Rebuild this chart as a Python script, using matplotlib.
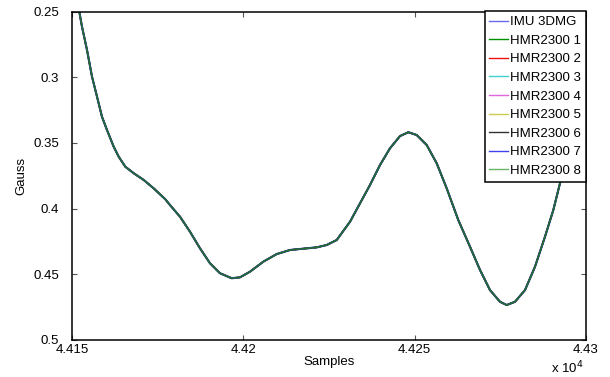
import matplotlib
matplotlib.use("Agg")
import matplotlib.pyplot as plt
from matplotlib.ticker import FuncFormatter

plt.rcParams['font.family'] = ['Liberation Sans', 'DejaVu Sans']

# sample index and field value (Gauss)
samples = [44150.00, 44152.13, 44152.92, 44154.38, 44155.84, 44157.30, 44158.75, 44160.21,
           44162.17, 44163.63, 44165.55, 44168.01, 44170.92, 44173.84, 44177.23, 44178.60,
           44181.52, 44184.44, 44187.35, 44190.27, 44193.19, 44196.61, 44199.03, 44201.95,
           44205.83, 44209.74, 44213.63, 44217.50, 44221.41, 44224.33, 44227.25, 44231.13,
           44234.05, 44236.97, 44239.89, 44242.80, 44245.72, 44248.14, 44250.59, 44253.51,
           44256.43, 44259.35, 44262.73, 44266.15, 44269.07, 44271.98, 44274.90, 44276.86,
           44279.28, 44282.20, 44285.12, 44288.03, 44290.46, 44292.41, 44295.33, 44300.00]
imu_3dmg = [0.2207, 0.2502, 0.2616, 0.2793, 0.2996, 0.3148, 0.3301, 0.3402,
            0.3529, 0.3605, 0.3681, 0.3731, 0.3782, 0.3846, 0.3929, 0.3973,
            0.4062, 0.4176, 0.4302, 0.4416, 0.4492, 0.4530, 0.4523, 0.4480,
            0.4404, 0.4346, 0.4315, 0.4305, 0.4295, 0.4277, 0.4239, 0.4100,
            0.3960, 0.3820, 0.3668, 0.3541, 0.3448, 0.3419, 0.3440, 0.3516,
            0.3655, 0.3846, 0.4087, 0.4290, 0.4467, 0.4620, 0.4709, 0.4734,
            0.4709, 0.4620, 0.4442, 0.4214, 0.4011, 0.3807, 0.3516, 0.3097]
hmr2300 = list(imu_3dmg)

series_labels = ['IMU 3DMG', 'HMR2300 1', 'HMR2300 2', 'HMR2300 3', 'HMR2300 4',
                 'HMR2300 5', 'HMR2300 6', 'HMR2300 7', 'HMR2300 8']
series_colors = ['#5a5af0', '#008a00', '#e00000', '#30cccc', '#dd55dd',
                 '#c8c030', '#222222', '#3030e0', '#1f7030']
legend_colors = ['#6a6af0', '#009000', '#ee1010', '#40d0d0', '#dd66dd',
                 '#cccc50', '#333333', '#4040ee', '#6ab46a']
series_widths = [1.6, 1.0, 1.0, 1.0, 1.0, 1.0, 1.3, 1.0, 1.1]

x_ticks = [44150, 44200, 44250, 44300]
y_ticks = [0.25, 0.3, 0.35, 0.4, 0.45, 0.5]

fig = plt.figure(figsize=(6.10, 3.77), dpi=100)
ax = fig.add_axes([72/610, 1 - 340/377, (586-72)/610, (340-11.5)/377])

for i, (lab, col, lw) in enumerate(zip(series_labels, series_colors, series_widths)):
    vals = imu_3dmg if i == 0 else hmr2300
    ax.plot(samples, vals, color=col, lw=lw, label=lab, solid_joinstyle='round')

ax.set_xlim(44150, 44300)
ax.set_ylim(0.5, 0.25)
ax.set_xticks(x_ticks)
ax.set_yticks(y_ticks)
ax.xaxis.set_major_formatter(FuncFormatter(lambda v, p: ('%g' % (v / 1e4))))
ax.yaxis.set_major_formatter(FuncFormatter(lambda v, p: ('%g' % v)))
ax.tick_params(direction='in', length=3.5, width=0.8, color='#555555',
               top=True, right=True, labelsize=9.5)
ax.tick_params(axis='y', pad=9.5)
ax.tick_params(axis='x', pad=3)
for s in ax.spines.values():
    s.set_linewidth(1.1)
    s.set_color('black')

ax.set_xlabel('Samples', fontsize=9.5, labelpad=0)
ax.set_ylabel('Gauss', fontsize=9.5, labelpad=4)
fig.text(567/610, 1 - 368/377, r'x 10$^{4}$', fontsize=9.5, ha='center', va='center')

leg = ax.legend(loc='upper right', borderaxespad=0, fontsize=9.5, frameon=True,
                fancybox=False, framealpha=1, edgecolor='black',
                handlelength=1.4, handletextpad=0.2, labelspacing=0.48,
                borderpad=0.35)
leg.get_frame().set_linewidth(1.1)
for h, c in zip(leg.get_lines(), legend_colors):
    h.set_linewidth(1.0)
    h.set_color(c)

fig.savefig('out.png', dpi=100)
